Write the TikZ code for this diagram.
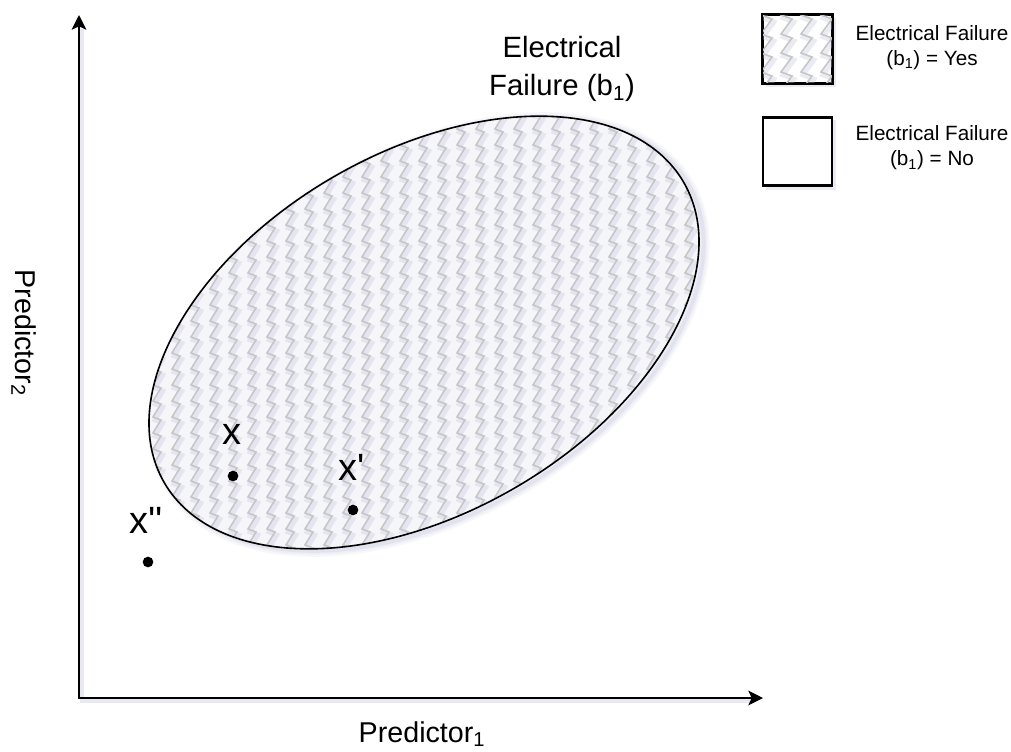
\documentclass[tikz,border=0pt]{standalone}
\usepackage{fontspec}
\setmainfont{Liberation Sans}
\usetikzlibrary{arrows.meta,calc}
\definecolor{zzgray}{RGB}{198,198,198}
\definecolor{shadecol}{RGB}{200,200,225}
\definecolor{ellfill}{RGB}{246,246,250}
\begin{document}
\begin{tikzpicture}[x=0.75pt,y=-0.75pt,
  zz/.style={draw=zzgray,line width=1.2pt},
  zzs/.style={draw=shadecol,line width=3.5pt,opacity=0.35},
  dot/.style={circle,fill=black,inner sep=0pt,minimum size=8pt},
  ptlabel/.style={font=\fontsize{28.5}{30}\selectfont,inner sep=0pt},
  axislabel/.style={font=\fontsize{21.5}{25}\selectfont,inner sep=0pt},
  biglabel/.style={font=\fontsize{22}{28.5}\selectfont,align=center,inner sep=0pt},
  legtext/.style={font=\fontsize{15.5}{18.75}\selectfont,align=center,inner sep=0pt},
  legbox/.style={draw=black,line width=1.6pt,fill=white,minimum width=51.75pt,minimum height=51pt,inner sep=0pt},
  axis/.style={line width=1.5pt,{Stealth[length=11pt,width=11pt,inset=2.5pt]}-{Stealth[length=11pt,width=11pt,inset=2.5pt]}}
]
\useasboundingbox (0,0) rectangle (1011,751);
\fill[white] (0,0) rectangle (1011,751);

% axes
\coordinate (ytop) at (79,15);
\coordinate (O) at (79,698);
\coordinate (xend) at (763,698);
\draw[shadecol,line width=3pt,opacity=0.4] ($(ytop)+(3,14)$) -- ($(O)+(3,3)$) -- ($(xend)+(-12,3)$);
\draw[axis] (ytop) -- (O) -- (xend);

% ellipse
\coordinate (c) at (424,332.5);
\foreach \w/\o in {9/0.12,6/0.18,3/0.3}{
  \draw[shadecol,line width=\w pt,opacity=\o,rotate around={30:($(c)+(3,4)$)}] ($(c)+(3,4)$) ellipse [x radius=300,y radius=180];
}
\begin{scope}
  \clip[rotate around={30:(c)}] (c) ellipse [x radius=300,y radius=180];
  \fill[ellfill] (100,80) rectangle (750,600);
  \foreach \cx in {142,161,...,740}{
    \draw[zzs] (\cx+2,103) \foreach \k in {1,...,31}{ -- ++(-8,13) -- ++(8,3) };
  }
  \foreach \cx in {142,161,...,740}{
    \draw[zz] (\cx,100) \foreach \k in {1,...,31}{ -- ++(-8,13) -- ++(8,3) };
  }
\end{scope}
\draw[black,line width=1.2pt,rotate around={30:(c)}] (c) ellipse [x radius=300,y radius=180];

% label of the region
\node[biglabel] (title) at (562,69) {Electrical\\Failure (b\textsubscript{1})};

% points
\node[dot] (p1) at (233,476) {};
\node[dot] (p2) at (353,510) {};
\node[dot] (p3) at (148,562) {};
\node[ptlabel] (l1) at (232,434) {x};
\node[ptlabel] (l2) at (352,467) {x\textquotesingle};
\node[ptlabel] (l3) at (146,520) {x\textquotesingle\textquotesingle};

% axis labels
\node[axislabel,rotate=-90] (ylab) at (24,333) {Predictor\textsubscript{2}};
\node[axislabel] (xlab) at (422,734) {Predictor\textsubscript{1}};

% legend
\fill[shadecol,opacity=0.35] (766,18) rectangle (836,87);
\node[legbox] (lg1) at (797.5,49) {};
\begin{scope}
  \clip ($(lg1.south west)+(1.2,-1.2)$) rectangle ($(lg1.north east)+(-1.2,1.2)$);
  \foreach \cx in {772,792,...,860}{
    \draw[zzs] (\cx+2,3) \foreach \k in {1,...,6}{ -- ++(-11,15) -- ++(11,4) };
  }
  \foreach \cx in {772,792,...,860}{
    \draw[zz] (\cx,0) \foreach \k in {1,...,6}{ -- ++(-11,15) -- ++(11,4) };
  }
\end{scope}
\draw[black,line width=1.6pt] (lg1.south west) rectangle (lg1.north east);
\node[legtext] (lt1) at (932,47.5) {Electrical Failure\\(b\textsubscript{1}) = Yes};

\fill[shadecol,opacity=0.35] (766,120) rectangle (836,190);
\node[legbox] (lg2) at (797.5,151.5) {};
\node[legtext] (lt2) at (932,148) {Electrical Failure\\(b\textsubscript{1}) = No};
\end{tikzpicture}
\end{document}
